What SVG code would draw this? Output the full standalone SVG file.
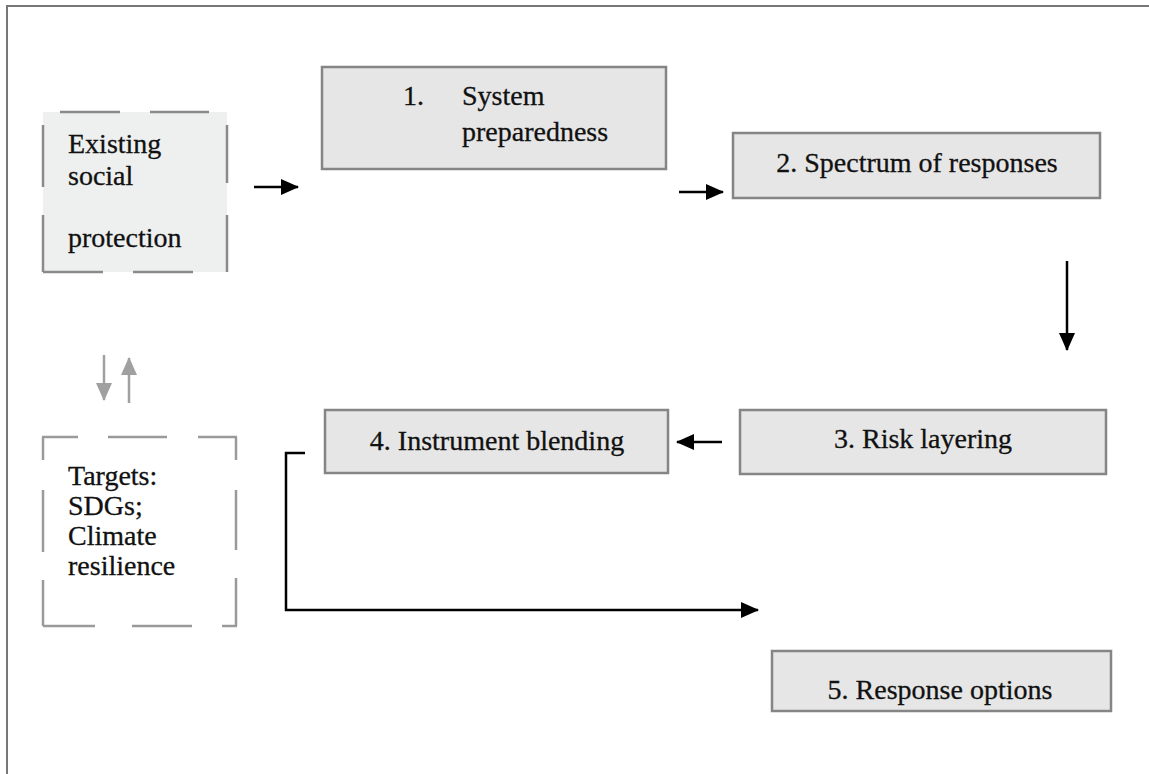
<svg xmlns="http://www.w3.org/2000/svg" width="1149" height="774" viewBox="0 0 1149 774">
<defs>
<style>
.box{fill:#e6e6e6;stroke:#858585;stroke-width:2.5}
.t{font-family:"Liberation Serif","Times New Roman","DejaVu Serif",serif;font-size:28px;fill:#111;stroke:#111;stroke-width:0.3}
.c{text-anchor:middle}
.dash{stroke:#8a8a8a;stroke-width:2.5;fill:none}
.dash2{stroke:#9a9a9a;stroke-width:2.5;fill:none}
.ar{stroke:#000;stroke-width:2.5;fill:none}
.gar{stroke:#a0a0a0;stroke-width:2.5;fill:none}
</style>
<marker id="ah" markerUnits="userSpaceOnUse" markerWidth="18" markerHeight="16" refX="17" refY="8" orient="auto">
<path d="M0,0 L18,8 L0,16 Z" fill="#000"/>
</marker>
<marker id="gh" markerUnits="userSpaceOnUse" markerWidth="18" markerHeight="16" refX="17" refY="8" orient="auto">
<path d="M0,0 L18,8 L0,16 Z" fill="#a0a0a0"/>
</marker>
</defs>
<rect width="1149" height="774" fill="#fff"/>
<path d="M7 774 V6 H1149" fill="none" stroke="#777" stroke-width="2"/>

<g id="existing">
<rect x="43" y="112" width="184" height="160" fill="#eef0f0"/>
<path class="dash" d="M60 112H120M150 112H209M43 125V187M43 215V272M227 125V183M227 215V272M43 272H103M133 272H193"/>
<text class="t" x="68" y="153" font-family="Liberation Serif, serif">Existing</text>
<text class="t" x="68" y="185" font-family="Liberation Serif, serif">social</text>
<text class="t" x="68" y="247" font-family="Liberation Serif, serif">protection</text>
</g>

<g id="targets">
<path class="dash2" d="M42 437H78M108 437H167M198 437H237M43 437V460M43 490V552M43 580V626M236 437V460M236 490V550M236 578V626M43 626H95M132 626H192M222 626H237"/>
<text class="t" x="68" y="485" font-family="Liberation Serif, serif">Targets:</text>
<text class="t" x="68" y="515" font-family="Liberation Serif, serif">SDGs;</text>
<text class="t" x="68" y="545" font-family="Liberation Serif, serif">Climate</text>
<text class="t" x="68" y="575" font-family="Liberation Serif, serif">resilience</text>
</g>

<g id="n1">
<rect class="box" x="322" y="67" width="344" height="102"/>
<text class="t" x="403" y="105" font-family="Liberation Serif, serif">1.</text>
<text class="t" x="462" y="105" font-family="Liberation Serif, serif">System</text>
<text class="t" x="462" y="141" font-family="Liberation Serif, serif">preparedness</text>
</g>

<g id="n2">
<rect class="box" x="733" y="133" width="367" height="65"/>
<text class="t c" x="917" y="172" font-family="Liberation Serif, serif">2. Spectrum of responses</text>
</g>

<g id="n3">
<rect class="box" x="740" y="410" width="366" height="64"/>
<text class="t c" x="923" y="448" font-family="Liberation Serif, serif">3. Risk layering</text>
</g>

<g id="n4">
<rect class="box" x="325" y="410" width="343" height="63"/>
<text class="t c" x="497" y="450" font-family="Liberation Serif, serif">4. Instrument blending</text>
</g>

<g id="n5">
<rect class="box" x="772" y="651" width="339" height="60"/>
<text class="t c" x="940" y="699" font-family="Liberation Serif, serif">5. Response options</text>
</g>

<g id="connectors">
<path class="ar" d="M254 187H298" marker-end="url(#ah)"/>
<path class="ar" d="M679 192H723" marker-end="url(#ah)"/>
<path class="ar" d="M1067 261V350" marker-end="url(#ah)"/>
<path class="ar" d="M722 442H677" marker-end="url(#ah)"/>
<path class="ar" d="M305 453H286V610H758" marker-end="url(#ah)"/>
<path class="gar" d="M104 355V400" marker-end="url(#gh)"/>
<path class="gar" d="M129 403V358" marker-end="url(#gh)"/>
</g>
</svg>
